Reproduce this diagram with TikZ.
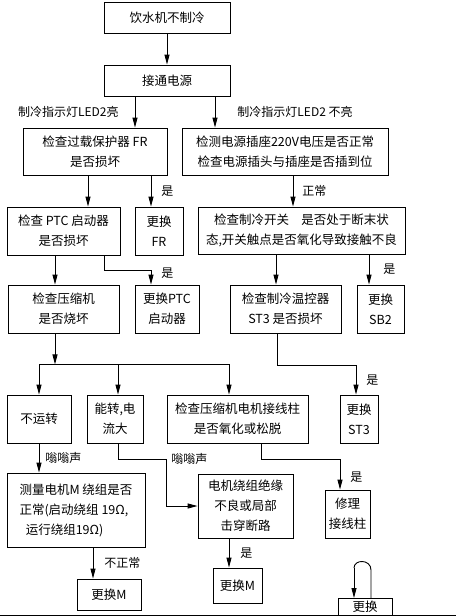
\documentclass[tikz,border=0pt]{standalone}
\usepackage{fontspec}
\setmainfont{Noto Sans CJK SC}
\usetikzlibrary{arrows.meta,positioning}

\begin{document}
\begin{tikzpicture}[x=1pt,y=-1pt,
  box/.style={draw,line width=0.9pt,minimum height=48pt,inner sep=1pt,align=center,font=\fontsize{12.5}{20}\selectfont},
  lbl/.style={font=\fontsize{12}{14}\selectfont,inner sep=1pt},
  arr/.style={-{Triangle[length=10pt,width=5pt]},line width=0.9pt},
  ln/.style={line width=0.9pt}
]
\useasboundingbox (0,0) rectangle (456,616);
\clip (0,0) rectangle (456,616);

% top of the chart
\node[box,minimum width=126pt,minimum height=31pt] (start) at (167,17.5) {饮水机不制冷};
\node[box,minimum width=126pt,minimum height=31pt] (power) at (167,80.5) {接通电源};
\node[box,minimum width=144pt,minimum height=47pt] (frchk) at (95,151.5) {检查过载保护器 FR\\是否损坏};
\node[box,minimum width=206pt,minimum height=47pt] (socket) at (285,151.5) {检测电源插座220V电压是否正常\\检查电源插头与插座是否插到位};

% second and third rows
\node[box,minimum width=113pt] (ptcchk) at (63.5,231) {检查 PTC 启动器\\是否损坏};
\node[box,minimum width=48pt] (frnew) at (159,231) {更换\\FR};
\node[box,minimum width=207pt,minimum height=47pt] (switch) at (301.5,230.5) {检查制冷开关\quad 是否处于断末状\\态,开关触点是否氧化导致接触不良};
\node[box,minimum width=111pt] (comp) at (63.5,309) {检查压缩机\\是否烧坏};
\node[box,minimum width=64pt] (ptcnew) at (167,309) {更换PTC\\启动器};
\node[box,minimum width=111pt] (thermo) at (285.5,309) {检查制冷温控器\\ST3 是否损坏};
\node[box,minimum width=47pt] (sbnew) at (380.5,309) {更换\\SB2};

% compressor branch
\node[box,minimum width=64pt] (norun) at (39,419) {不运转};
\node[box,minimum width=56pt] (bigcur) at (115,419) {能转,电\\流大};
\node[box,minimum width=141pt] (post) at (237.5,419) {检查压缩机电机接线柱\\是否氧化或松脱};
\node[box,minimum width=38pt] (stnew) at (359,419) {更换\\ST3};
\node[box,minimum width=138pt,minimum height=74pt,align=left] (measure) at (76,510) {测量电机M 绕组是否\\正常(启动绕组 19Ω,\\\hspace*{0.5em}运行绕组19Ω)};
\node[box,minimum width=95pt,minimum height=64pt] (insul) at (245.5,506) {电机绕组绝缘\\不良或局部\\击穿断路};
\node[box,minimum width=45pt] (repair) at (347.5,514) {修理\\接线柱};
\node[box,minimum width=64pt,minimum height=31pt] (mnew1) at (109,594.5) {更换M};
\node[box,minimum width=49pt,minimum height=35pt] (mnew2) at (237.5,585.5) {更换M};
\node[box,minimum width=54pt,minimum height=0pt,text height=12pt,text depth=16pt,anchor=north] (cut) at (365,598) {更换};
\coordinate (loopl) at (354,568);
\coordinate (loopr) at (371,570);

% connectors
\draw[arr] (start) -- (power);
\draw[arr] ([xshift=-32pt]power.south) -- ([xshift=-32pt]power.south |- frchk.north) node[lbl,midway,left=15pt] {制冷指示灯LED2亮};
\draw[arr] ([xshift=48pt]power.south) -- ([xshift=48pt]power.south |- socket.north) node[lbl,midway,right=21pt] {制冷指示灯LED2 不亮};
\draw[arr] ([xshift=-7pt]frchk.south) -- ([xshift=-7pt]frchk.south |- ptcchk.north);
\draw[arr] ([xshift=56pt]frchk.south) -- ([xshift=56pt]frchk.south |- frnew.north) node[lbl,midway,right=9pt] {是};
\draw[arr] ([xshift=8pt]socket.south) -- ([xshift=8pt]socket.south |- switch.north) node[lbl,midway,right=8pt] {正常};
\draw[arr] ([xshift=-8.5pt]ptcchk.south) -- ([xshift=-8.5pt]ptcchk.south |- comp.north);
\draw[arr] ([xshift=40.5pt]ptcchk.south) -- ++(0,15) -| ([xshift=-16pt]ptcnew.north) node[lbl,pos=0.6,right=9pt] {是};
\draw[arr] ([xshift=-25.5pt]switch.south) -- ([xshift=-25.5pt]switch.south |- thermo.north);
\draw[arr] ([xshift=67.5pt]switch.south) -- ([xshift=67.5pt]switch.south |- sbnew.north) node[lbl,midway,right=13pt] {是};
\draw[arr] ([xshift=-8.5pt]comp.south) -- ++(0,31) coordinate (split);
\draw[ln] (norun.north |- split) -- ([xshift=-8.5pt]post.north |- split);
\draw[arr] (norun.north |- split) -- (norun.north);
\draw[arr] ([xshift=3pt]bigcur.north |- split) -- ([xshift=3pt]bigcur.north);
\draw[arr] ([xshift=-8.5pt]post.north |- split) -- ([xshift=-8.5pt]post.north);
\draw[arr] ([xshift=-8.5pt]thermo.south) -- ++(0,32) -| ([xshift=-3pt]stnew.north) node[lbl,pos=0.75,right=9pt] {是};
\draw[arr] (norun) -- (norun.south |- measure.north) node[lbl,midway,right=5pt] {嗡嗡声};
\draw[arr] ([xshift=3pt]bigcur.south) -- ++(0,16) -- ++(48,0) node[lbl,right=4pt] {嗡嗡声} |- (insul.west);
\draw[arr] ([xshift=23.5pt]post.south) -- ++(0,16) -| ([xshift=-7.5pt]repair.north) node[lbl,pos=0.8,right=9pt] {是};
\draw[arr] ([xshift=17pt]measure.south) -- ([xshift=17pt]measure.south |- mnew1.north) node[lbl,midway,right=10pt] {不正常};
\draw[arr] ([xshift=-16.5pt]insul.south) -- ([xshift=-16.5pt]insul.south |- mnew2.north) node[lbl,midway,right=10pt] {是};
\draw[arr] (loopl) -- (loopl |- cut.north);
\draw[ln] (loopl) .. controls (354,559) and (371,559) .. (loopr) -- (loopr |- cut.north);
\draw[line width=1.2pt] (0,615.4) -- (456,615.4);
\end{tikzpicture}
\end{document}
